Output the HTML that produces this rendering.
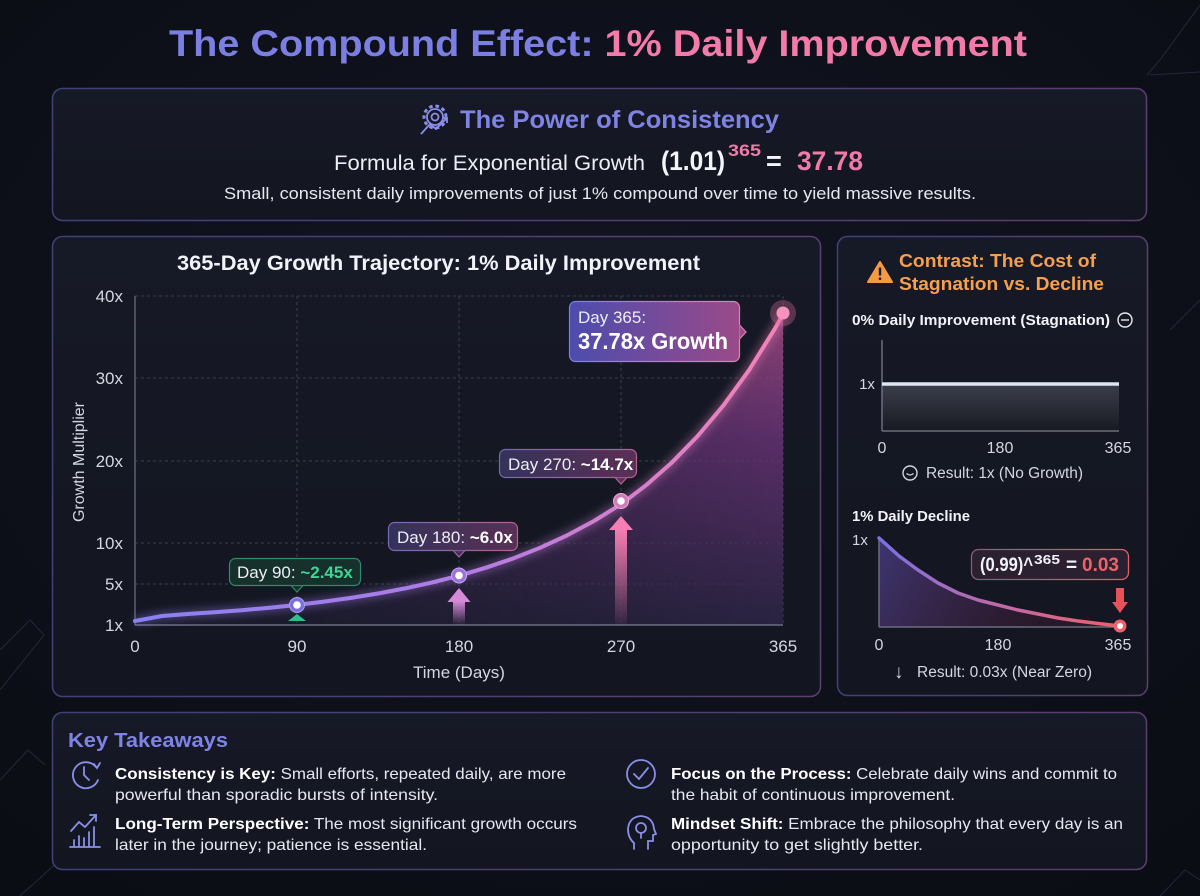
<!DOCTYPE html>
<html><head><meta charset="utf-8">
<style>
html,body{margin:0;padding:0;background:#0d0f17;}
svg{display:block;font-family:"Liberation Sans",sans-serif;}
</style></head>
<body>
<svg width="1200" height="896" viewBox="0 0 1200 896" xmlns="http://www.w3.org/2000/svg">
<defs>
  <radialGradient id="bgG" cx="50%" cy="40%" r="75%">
    <stop offset="0" stop-color="#121522"/><stop offset="1" stop-color="#0b0d14"/>
  </radialGradient>
  <linearGradient id="panelStroke" x1="0" y1="0" x2="1" y2="0">
    <stop offset="0" stop-color="#3f4178"/><stop offset="1" stop-color="#5b3f6e"/>
  </linearGradient>
  <linearGradient id="panelFill" x1="0" y1="0" x2="0" y2="1">
    <stop offset="0" stop-color="#161926"/><stop offset="1" stop-color="#131620"/>
  </linearGradient>
  <linearGradient id="curveG" gradientUnits="userSpaceOnUse" x1="135" y1="0" x2="783" y2="0">
    <stop offset="0" stop-color="#8a80f0"/><stop offset="0.5" stop-color="#b07ce6"/><stop offset="1" stop-color="#f583b4"/>
  </linearGradient>
  <linearGradient id="areaV2" gradientUnits="userSpaceOnUse" x1="0" y1="313" x2="0" y2="625">
    <stop offset="0" stop-color="#a84c88"/>
    <stop offset="0.4" stop-color="#6a3478"/>
    <stop offset="1" stop-color="#2e2648"/>
  </linearGradient>
  <linearGradient id="areaHm" gradientUnits="userSpaceOnUse" x1="135" y1="0" x2="783" y2="0">
    <stop offset="0" stop-color="#fff" stop-opacity="0.15"/>
    <stop offset="0.5" stop-color="#fff" stop-opacity="0.55"/>
    <stop offset="1" stop-color="#fff" stop-opacity="0.95"/>
  </linearGradient>
  <mask id="areaMask"><rect x="0" y="0" width="1200" height="896" fill="url(#areaHm)"/></mask>
  <filter id="glow" x="-20%" y="-20%" width="140%" height="140%"><feGaussianBlur stdDeviation="4"/></filter>
  <linearGradient id="arrowPurple" x1="0" y1="0" x2="0" y2="1">
    <stop offset="0" stop-color="#d58ad8"/><stop offset="1" stop-color="#d58ad8" stop-opacity="0"/>
  </linearGradient>
  <linearGradient id="arrowPink" x1="0" y1="0" x2="0" y2="1">
    <stop offset="0" stop-color="#f57fb2"/><stop offset="1" stop-color="#f57fb2" stop-opacity="0.05"/>
  </linearGradient>
  <linearGradient id="box180" x1="0" y1="0" x2="1" y2="0">
    <stop offset="0" stop-color="#34325a"/><stop offset="1" stop-color="#5a3055"/>
  </linearGradient>
  <linearGradient id="box180s" x1="0" y1="0" x2="1" y2="0">
    <stop offset="0" stop-color="#7468b8"/><stop offset="1" stop-color="#b0628f"/>
  </linearGradient>
  <linearGradient id="box365" x1="0" y1="0" x2="1" y2="0">
    <stop offset="0" stop-color="#4c4cae"/><stop offset="1" stop-color="#9a4a88"/>
  </linearGradient>
  <linearGradient id="box365s" x1="0" y1="0" x2="1" y2="0">
    <stop offset="0" stop-color="#8080e0"/><stop offset="1" stop-color="#e080b0"/>
  </linearGradient>
  <linearGradient id="stagFill" x1="0" y1="0" x2="0" y2="1">
    <stop offset="0" stop-color="#3a3e4a"/><stop offset="1" stop-color="#181a22"/>
  </linearGradient>
  <linearGradient id="declG" gradientUnits="userSpaceOnUse" x1="879" y1="0" x2="1120" y2="0">
    <stop offset="0" stop-color="#7a70e0"/><stop offset="0.5" stop-color="#c06aa8"/><stop offset="1" stop-color="#f0606a"/>
  </linearGradient>
  <linearGradient id="declFill" gradientUnits="userSpaceOnUse" x1="879" y1="538" x2="1040" y2="627">
    <stop offset="0" stop-color="#5a4aa8" stop-opacity="0.6"/><stop offset="1" stop-color="#602040" stop-opacity="0.25"/>
  </linearGradient>
  <linearGradient id="declBoxS" x1="0" y1="0" x2="1" y2="0">
    <stop offset="0" stop-color="#8a5a7a"/><stop offset="1" stop-color="#e0606a"/>
  </linearGradient>
</defs>

<rect width="1200" height="896" fill="url(#bgG)"/>
<g stroke="#2a2d45" stroke-width="1" fill="none" opacity="0.8">
  <polyline points="0,650 30,620 44,635 0,690"/>
  <polyline points="0,780 28,750 45,765"/>
  <polyline points="1200,5 1160,60 1147,75"/>
  <polyline points="1150,75 1200,72"/>
  <polyline points="1200,300 1170,330"/>
  <polyline points="20,896 60,860"/>
  <polyline points="1160,896 1185,870 1200,880"/>
</g>

<!-- Title -->
<text x="169" y="56" font-size="37" font-weight="bold" textLength="858" lengthAdjust="spacingAndGlyphs"><tspan fill="#7b7fe2">The Compound Effect: </tspan><tspan fill="#f27ba9">1% Daily Improvement</tspan></text>

<!-- Top panel -->
<rect x="52.5" y="88.5" width="1094" height="132" rx="10" fill="url(#panelFill)" stroke="url(#panelStroke)" stroke-width="1.5"/>
<g stroke="#8a8ee8" stroke-width="1.8" fill="none">
  <circle cx="435" cy="117" r="8"/>
  <circle cx="435" cy="117" r="11" stroke-dasharray="3.5 3" stroke-width="3"/>
  <circle cx="435" cy="117" r="3.5"/>
  <polyline points="421,134 430,124 436,129 447,118"/>
  <polyline points="442,118 447,118 447,123"/>
</g>
<text x="460" y="128" font-size="25" font-weight="bold" fill="#7f83e4" textLength="319" lengthAdjust="spacingAndGlyphs">The Power of Consistency</text>
<text x="334" y="170" font-size="21" fill="#eceef4" textLength="311" lengthAdjust="spacingAndGlyphs">Formula for Exponential Growth</text>
<text x="661" y="170" font-size="27" font-weight="bold" fill="#f4f5fa" textLength="64" lengthAdjust="spacingAndGlyphs">(1.01)</text>
<text x="728" y="156" font-size="17" font-weight="bold" fill="#f07aa8" textLength="33" lengthAdjust="spacingAndGlyphs">365</text>
<text x="766" y="170" font-size="27" font-weight="bold" fill="#f4f5fa">=</text>
<text x="797" y="170" font-size="27" font-weight="bold" fill="#f07aa8" textLength="66" lengthAdjust="spacingAndGlyphs">37.78</text>
<text x="224" y="199" font-size="17" fill="#e6e8f0" textLength="752" lengthAdjust="spacingAndGlyphs">Small, consistent daily improvements of just 1% compound over time to yield massive results.</text>

<!-- Main chart panel -->
<rect x="52.5" y="236.5" width="768" height="460" rx="10" fill="url(#panelFill)" stroke="url(#panelStroke)" stroke-width="1.5"/>
<text x="177" y="270" font-size="21" font-weight="bold" fill="#f2f3f8" textLength="523" lengthAdjust="spacingAndGlyphs">365-Day Growth Trajectory: 1% Daily Improvement</text>

<g stroke="#3a3d50" stroke-width="1" stroke-dasharray="3 3">
  <line x1="135" y1="296" x2="783" y2="296"/>
  <line x1="135" y1="378" x2="783" y2="378"/>
  <line x1="135" y1="461" x2="783" y2="461"/>
  <line x1="135" y1="543" x2="783" y2="543"/>
  <line x1="135" y1="584" x2="783" y2="584"/>
  <line x1="297" y1="296" x2="297" y2="625"/>
  <line x1="459" y1="296" x2="459" y2="625"/>
  <line x1="621" y1="296" x2="621" y2="625"/>
  <line x1="783" y1="296" x2="783" y2="625"/>
</g>
<path d="M135,621 L162,616 L189,613.9 L216,612.1 L243,610.1 L270,607.7 L297,604.9 L324,601.6 L351,597.9 L378,593.5 L405,588.4 L432,582.5 L459,575.7 L486,567.7 L513,558.5 L540,547.8 L567,535.4 L594,521 L621,504.2 L646.6,484.8 L672.2,462.2 L697.7,436 L723.3,405.6 L748.9,370.3 L774.5,329.3 L783,314.2 L783,625 L135,625 Z" fill="url(#areaV2)" mask="url(#areaMask)" opacity="0.85"/>
<line x1="135" y1="296" x2="135" y2="625" stroke="#5c5f74" stroke-width="1.5"/>
<line x1="135" y1="625" x2="783" y2="625" stroke="#6a6d82" stroke-width="1.5"/>

<rect x="453" y="601" width="12" height="24" fill="url(#arrowPurple)"/>
<polygon points="459,588 470.5,602 447.5,602" fill="#d58ad8"/>
<rect x="615" y="529" width="12" height="96" fill="url(#arrowPink)"/>
<polygon points="621,516 633,530 609,530" fill="#f57fb2"/>
<polygon points="297,614 306,621 288,621" fill="#2fbf88"/>

<path d="M135,621 L162,616 L189,613.9 L216,612.1 L243,610.1 L270,607.7 L297,604.9 L324,601.6 L351,597.9 L378,593.5 L405,588.4 L432,582.5 L459,575.7 L486,567.7 L513,558.5 L540,547.8 L567,535.4 L594,521 L621,504.2 L646.6,484.8 L672.2,462.2 L697.7,436 L723.3,405.6 L748.9,370.3 L774.5,329.3 L783,314.2" fill="none" stroke="url(#curveG)" stroke-width="10" opacity="0.35" filter="url(#glow)" stroke-linejoin="round"/>
<path d="M135,621 L162,616 L189,613.9 L216,612.1 L243,610.1 L270,607.7 L297,604.9 L324,601.6 L351,597.9 L378,593.5 L405,588.4 L432,582.5 L459,575.7 L486,567.7 L513,558.5 L540,547.8 L567,535.4 L594,521 L621,504.2 L646.6,484.8 L672.2,462.2 L697.7,436 L723.3,405.6 L748.9,370.3 L774.5,329.3 L783,314.2" fill="none" stroke="url(#curveG)" stroke-width="4" stroke-linejoin="round" stroke-linecap="round"/>

<circle cx="297" cy="605" r="7.5" fill="#7a70e0" stroke="#a8a0f5" stroke-width="1"/>
<circle cx="297" cy="605" r="3.8" fill="#ffffff"/>
<circle cx="459" cy="575.5" r="7.5" fill="#9a74d8" stroke="#c8a8f0" stroke-width="1"/>
<circle cx="459" cy="575.5" r="3.8" fill="#ffffff"/>
<circle cx="621" cy="501" r="7.5" fill="#d07ab8" stroke="#f0b0d0" stroke-width="1"/>
<circle cx="621" cy="501" r="3.8" fill="#ffffff"/>
<circle cx="783" cy="313" r="13" fill="#d06a9a" opacity="0.35"/>
<circle cx="783" cy="313" r="6.5" fill="#f693bd"/>

<rect x="229.5" y="558.5" width="131" height="27" rx="6" fill="#16302c" stroke="#2e8a6c" stroke-width="1.2"/>
<polygon points="291,585.5 303,585.5 297,592" fill="#16302c" stroke="#2e8a6c" stroke-width="1.2"/>
<rect x="291" y="583" width="12" height="2" fill="#16302c"/>
<text x="237" y="578" font-size="17" fill="#eceef4">Day 90: <tspan fill="#3ed597" font-weight="bold">~2.45x</tspan></text>

<rect x="388.5" y="522.5" width="129" height="28" rx="6" fill="url(#box180)" stroke="url(#box180s)" stroke-width="1.2"/>
<polygon points="453,550.5 465,550.5 459,557" fill="#48305a" stroke="#9a66a0" stroke-width="1.2"/>
<rect x="453" y="548" width="12" height="2.2" fill="#48315a"/>
<text x="397" y="543" font-size="17" fill="#eceef4">Day 180: <tspan font-weight="bold" fill="#ffffff">~6.0x</tspan></text>

<rect x="499.5" y="449.5" width="137" height="28" rx="6" fill="url(#box180)" stroke="url(#box180s)" stroke-width="1.2"/>
<polygon points="615,477.5 627,477.5 621,484" fill="#58305a" stroke="#b0628f" stroke-width="1.2"/>
<rect x="615" y="475" width="12" height="2.2" fill="#58305a"/>
<text x="508" y="470" font-size="17" fill="#eceef4">Day 270: <tspan font-weight="bold" fill="#ffffff">~14.7x</tspan></text>

<rect x="569.5" y="301.5" width="170" height="60" rx="6" fill="url(#box365)" stroke="url(#box365s)" stroke-width="1.2"/>
<polygon points="739.5,325 746,332 739.5,339" fill="#9a4a88" stroke="#e080b0" stroke-width="1.2"/>
<rect x="737" y="325" width="2.5" height="14" fill="#9a4a88"/>
<text x="578" y="323" font-size="17" fill="#eceef4">Day 365:</text>
<text x="578" y="349" font-size="23" font-weight="bold" fill="#ffffff" textLength="150" lengthAdjust="spacingAndGlyphs">37.78x Growth</text>

<g font-size="17" fill="#d4d6e0" text-anchor="end">
  <text x="123" y="302">40x</text>
  <text x="123" y="384">30x</text>
  <text x="123" y="467">20x</text>
  <text x="123" y="549">10x</text>
  <text x="123" y="590">5x</text>
  <text x="123" y="631">1x</text>
</g>
<g font-size="17" fill="#d4d6e0" text-anchor="middle">
  <text x="135" y="652">0</text>
  <text x="297" y="652">90</text>
  <text x="459" y="652">180</text>
  <text x="621" y="652">270</text>
  <text x="783" y="652">365</text>
  <text x="459" y="678">Time (Days)</text>
</g>
<text x="0" y="0" font-size="16" fill="#d4d6e0" text-anchor="middle" transform="translate(84,462) rotate(-90)">Growth Multiplier</text>

<!-- Right panel -->
<rect x="837.5" y="236.5" width="310" height="459" rx="10" fill="url(#panelFill)" stroke="url(#panelStroke)" stroke-width="1.5"/>
<polygon points="880,262 892,282 868,282" fill="#f39a45" stroke="#f39a45" stroke-width="2" stroke-linejoin="round"/>
<rect x="878.8" y="267.5" width="2.4" height="8" fill="#1a1c26"/>
<rect x="878.8" y="277.5" width="2.4" height="2.4" fill="#1a1c26"/>
<text x="899" y="267" font-size="18" font-weight="bold" fill="#f4a04e" textLength="197" lengthAdjust="spacingAndGlyphs">Contrast: The Cost of</text>
<text x="899" y="290" font-size="18" font-weight="bold" fill="#f4a04e" textLength="205" lengthAdjust="spacingAndGlyphs">Stagnation vs. Decline</text>

<text x="852" y="325" font-size="15" font-weight="bold" fill="#f2f3f8" textLength="258" lengthAdjust="spacingAndGlyphs">0% Daily Improvement (Stagnation)</text>
<circle cx="1125" cy="320" r="7" fill="none" stroke="#e8e9f0" stroke-width="1.4"/>
<line x1="1121" y1="320" x2="1129" y2="320" stroke="#e8e9f0" stroke-width="1.4"/>

<rect x="882" y="385" width="237" height="46" fill="url(#stagFill)"/>
<line x1="882" y1="340" x2="882" y2="431" stroke="#6a6d80" stroke-width="1.5"/>
<line x1="882" y1="431" x2="1119" y2="431" stroke="#6a6d80" stroke-width="1.5"/>
<line x1="882" y1="384" x2="1119" y2="384" stroke="#dfe6f3" stroke-width="3.5"/>
<text x="867" y="389" font-size="15" fill="#d4d6e0" text-anchor="middle">1x</text>
<g font-size="16" fill="#d4d6e0" text-anchor="middle">
  <text x="882" y="453">0</text>
  <text x="1000" y="453">180</text>
  <text x="1118" y="453">365</text>
</g>
<circle cx="910" cy="473" r="7" fill="none" stroke="#d4d6e0" stroke-width="1.4"/>
<path d="M906.5,473.5 Q910,476.5 913.5,473.5" fill="none" stroke="#d4d6e0" stroke-width="1.2"/>
<text x="926" y="478" font-size="15.5" fill="#d4d6e0" textLength="157" lengthAdjust="spacingAndGlyphs">Result: 1x (No Growth)</text>

<text x="852" y="521" font-size="15" font-weight="bold" fill="#f2f3f8" textLength="118" lengthAdjust="spacingAndGlyphs">1% Daily Decline</text>
<text x="852" y="545" font-size="15" fill="#d4d6e0">1x</text>
<path d="M879,538 L899,556 L918,570 L938,583 L958,593 L978,600 L998,605 L1018,610 L1038,614 L1058,618 L1078,621 L1098,623.5 L1120,626 L1120,627 L879,627 Z" fill="url(#declFill)"/>
<line x1="879" y1="538" x2="879" y2="627" stroke="#6a6d80" stroke-width="1.5"/>
<line x1="879" y1="627" x2="1120" y2="627" stroke="#6a6d80" stroke-width="1.5"/>
<path d="M879,538 L899,556 L918,570 L938,583 L958,593 L978,600 L998,605 L1018,610 L1038,614 L1058,618 L1078,621 L1098,623.5 L1120,626" fill="none" stroke="url(#declG)" stroke-width="3.5" stroke-linejoin="round" stroke-linecap="round"/>
<circle cx="1120" cy="626" r="6.5" fill="#f06068"/>
<circle cx="1120" cy="626" r="3" fill="#ffffff"/>
<rect x="1116" y="588" width="8" height="15" fill="#e8505a"/>
<polygon points="1112,602 1128,602 1120,613" fill="#e8505a"/>
<rect x="971.5" y="549.5" width="157" height="30" rx="7" fill="#2a2030" stroke="url(#declBoxS)" stroke-width="1.3"/>
<text x="980" y="571" font-size="19" font-weight="bold" fill="#f2f3f8" textLength="53" lengthAdjust="spacingAndGlyphs">(0.99)^</text>
<text x="1034" y="564" font-size="13" font-weight="bold" fill="#f2f3f8" textLength="26" lengthAdjust="spacingAndGlyphs">365</text>
<text x="1066" y="571" font-size="19" font-weight="bold" fill="#f2f3f8">=</text>
<text x="1082" y="571" font-size="19" font-weight="bold" fill="#f2606a" textLength="37" lengthAdjust="spacingAndGlyphs">0.03</text>
<g font-size="16" fill="#d4d6e0" text-anchor="middle">
  <text x="879" y="650">0</text>
  <text x="998" y="650">180</text>
  <text x="1118" y="650">365</text>
</g>
<text x="894" y="678" font-size="19" fill="#d4d6e0">↓</text>
<text x="917" y="677" font-size="15.5" fill="#d4d6e0" textLength="175" lengthAdjust="spacingAndGlyphs">Result: 0.03x (Near Zero)</text>

<!-- Key Takeaways panel -->
<rect x="52.5" y="712.5" width="1094" height="157" rx="10" fill="url(#panelFill)" stroke="url(#panelStroke)" stroke-width="1.5"/>
<text x="68" y="747" font-size="20" font-weight="bold" fill="#7f83e4" textLength="160" lengthAdjust="spacingAndGlyphs">Key Takeaways</text>

<g stroke="#8a8ee8" stroke-width="1.8" fill="none" stroke-linecap="round">
  <path d="M96,767 A13,13 0 1 0 98,780"/>
  <polyline points="94,764 97,768 100,763"/>
  <polyline points="84,767 84,775 89,780"/>
  <circle cx="641" cy="774" r="14"/>
  <polyline points="634,774 639,779 648,768"/>
  <polyline points="71,831 79,822 85,827 96,815"/>
  <polyline points="90,815 96,815 96,821"/>
  <line x1="70" y1="847" x2="100" y2="847"/>
  <line x1="74" y1="846" x2="74" y2="840"/>
  <line x1="79" y1="846" x2="79" y2="836"/>
  <line x1="84" y1="846" x2="84" y2="838"/>
  <line x1="89" y1="846" x2="89" y2="832"/>
  <line x1="94" y1="846" x2="94" y2="827"/>
  <path d="M634,849 L634,843 Q628,838 628,829 Q629,817 641,816 Q653,817 654,829 L656,834 L653,835 L653,841 L648,841 L648,849"/>
  <circle cx="641" cy="828" r="5"/>
  <line x1="641" y1="833" x2="641" y2="838"/>
</g>

<g font-size="16" fill="#e6e8f0">
  <text x="115" y="779" textLength="451" lengthAdjust="spacingAndGlyphs"><tspan font-weight="bold" fill="#ffffff">Consistency is Key:</tspan> Small efforts, repeated daily, are more</text>
  <text x="115" y="800" textLength="323" lengthAdjust="spacingAndGlyphs">powerful than sporadic bursts of intensity.</text>
  <text x="115" y="829" textLength="462" lengthAdjust="spacingAndGlyphs"><tspan font-weight="bold" fill="#ffffff">Long-Term Perspective:</tspan> The most significant growth occurs</text>
  <text x="115" y="850" textLength="312" lengthAdjust="spacingAndGlyphs">later in the journey; patience is essential.</text>
  <text x="671" y="779" textLength="446" lengthAdjust="spacingAndGlyphs"><tspan font-weight="bold" fill="#ffffff">Focus on the Process:</tspan> Celebrate daily wins and commit to</text>
  <text x="671" y="800" textLength="284" lengthAdjust="spacingAndGlyphs">the habit of continuous improvement.</text>
  <text x="671" y="829" textLength="452" lengthAdjust="spacingAndGlyphs"><tspan font-weight="bold" fill="#ffffff">Mindset Shift:</tspan> Embrace the philosophy that every day is an</text>
  <text x="671" y="850" textLength="252" lengthAdjust="spacingAndGlyphs">opportunity to get slightly better.</text>
</g>
</svg>
</body></html>
